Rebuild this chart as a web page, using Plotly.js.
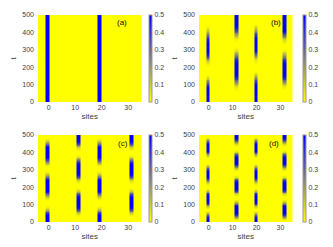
<!DOCTYPE html>
<html><head><meta charset="utf-8">
<script src="https://cdn.plot.ly/plotly-3.0.1.min.js"></script>
<style>html,body{margin:0;padding:0;background:#fff}#chart{width:333px;height:247px}</style>
</head><body><div id="chart"></div>
<script>
// grid of the maps
const siteStart = -4, siteStep = 0.5, siteCount = 79;
const tStart = 0, tStep = 10;
const panelLabels = ['(a)', '(b)', '(c)', '(d)'];
const xTicks = [0, 10, 20, 30];
const yTicks = [0, 100, 200, 300, 400, 500];
const cbTicks = [0, 0.1, 0.2, 0.3, 0.4, 0.5];
const cbText = ['0', '0.1', '0.2', '0.3', '0.4', '0.5'];

// panel (a): two frozen columns
const aSites = [-0.5, 19];
const aCol1 = [.5,.5,.5,.5,.5,.5,.5,.5,.5,.5,.5,.5,.5,.5,.5,.5,.5,.5,.5,.5,.5,.5,.5,.5,.5,.5,.5,.5,.5,.5,.5,.5,.5,.5,.5,.5,.5,.5,.5,.5,.5,.5,.5,.5,.5,.5,.5,.5,.5,.5,.5];
const aCol2 = [.5,.5,.5,.5,.5,.5,.5,.5,.5,.5,.5,.5,.5,.5,.5,.5,.5,.5,.5,.5,.5,.5,.5,.5,.5,.5,.5,.5,.5,.5,.5,.5,.5,.5,.5,.5,.5,.5,.5,.5,.5,.5,.5,.5,.5,.5,.5,.5,.5,.5,.5];

// panel (b)
const bSites = [-0.5, 11.5, 19.5, 31.5];
const bCol1 = [.5,.5,.5,.5,.5,.5,.5,.5,.5,.45,.4,.33,.25,.16,.08,.03,0,0,0,0,0,0,.03,.08,.16,.26,.36,.44,.48,.5,.5,.5,.5,.5,.5,.48,.45,.4,.33,.25,.18,.12,.07,.03,.01,0,0,0,0,0,0];
const bCol2 = [0,0,0,0,0,0,0,.01,.03,.07,.13,.2,.28,.36,.43,.48,.5,.5,.5,.5,.5,.5,.5,.48,.45,.4,.33,.25,.17,.1,.05,.02,0,0,0,.01,.03,.07,.13,.2,.28,.36,.43,.48,.5,.5,.5,.5,.5,.5,.5];
const bCol3 = [.5,.5,.5,.5,.5,.5,.5,.5,.5,.5,.5,.45,.4,.33,.25,.16,.08,.03,0,0,0,0,0,.02,.05,.1,.18,.28,.38,.45,.49,.5,.5,.5,.5,.5,.5,.48,.44,.38,.3,.22,.15,.09,.04,.01,0,0,0,0,0];
const bCol4 = [0,0,0,0,0,0,0,0,.02,.05,.1,.18,.27,.36,.44,.49,.5,.5,.5,.5,.5,.5,.5,.47,.42,.35,.27,.19,.12,.06,.02,0,0,0,.02,.05,.1,.18,.27,.36,.44,.49,.5,.5,.5,.5,.5,.5,.5,.5,.5];

// panel (c)
const cSites = [-0.5, 11, 19, 31];
const cCol1 = [.5,.5,.5,.5,.5,.42,.3,.16,.06,.01,0,0,0,.01,.06,.16,.3,.42,.5,.5,.5,.5,.5,.5,.5,.42,.3,.16,.06,.01,0,0,.01,.06,.16,.3,.42,.5,.5,.5,.5,.5,.5,.5,.42,.3,.16,.06,.01,0,0];
const cCol2 = [0,0,0,0,.03,.1,.23,.36,.47,.5,.5,.5,.5,.5,.5,.47,.36,.23,.1,.03,0,0,0,.03,.1,.23,.36,.47,.5,.5,.5,.5,.5,.5,.47,.36,.23,.1,.03,0,0,0,.03,.1,.23,.36,.47,.5,.5,.5,.5];
const cCol3 = [.5,.5,.5,.5,.5,.42,.3,.16,.06,.01,0,0,0,.01,.06,.16,.3,.42,.5,.5,.5,.5,.5,.5,.5,.42,.3,.16,.06,.01,0,0,.01,.06,.16,.3,.42,.5,.5,.5,.5,.5,.5,.5,.42,.3,.16,.06,.01,0,0];
const cCol4 = [0,0,0,0,.03,.1,.23,.36,.47,.5,.5,.5,.5,.5,.5,.47,.36,.23,.1,.03,0,0,0,.03,.1,.23,.36,.47,.5,.5,.5,.5,.5,.5,.47,.36,.23,.1,.03,0,0,0,.03,.1,.23,.36,.47,.5,.5,.5,.5];

// panel (d)
const dSites = [-0.5, 11.5, 19.5, 31.5];
const dCol1 = [.5,.5,.5,.46,.32,.14,.03,0,.03,.14,.32,.46,.5,.5,.5,.5,.46,.32,.14,.03,0,0,.03,.14,.32,.46,.5,.5,.5,.5,.46,.32,.14,.03,0,0,0,.01,.07,.22,.4,.5,.5,.5,.5,.5,.4,.22,.07,.01,0];
const dCol2 = [0,.01,.07,.22,.4,.5,.5,.5,.5,.5,.4,.22,.07,.01,0,.01,.07,.22,.4,.5,.5,.5,.5,.5,.4,.22,.07,.01,0,0,.03,.14,.32,.46,.5,.5,.5,.5,.46,.32,.14,.03,0,0,.01,.07,.22,.4,.5,.5,.5];
const dCol3 = [.5,.5,.5,.46,.32,.14,.03,0,.03,.14,.32,.46,.5,.5,.5,.5,.46,.32,.14,.03,0,0,.03,.14,.32,.46,.5,.5,.5,.5,.46,.32,.14,.03,0,0,0,.01,.07,.22,.4,.5,.5,.5,.5,.5,.4,.22,.07,.01,0];
const dCol4 = [0,.01,.07,.22,.4,.5,.5,.5,.5,.5,.4,.22,.07,.01,0,.01,.07,.22,.4,.5,.5,.5,.5,.5,.4,.22,.07,.01,0,0,.03,.14,.32,.46,.5,.5,.5,.5,.46,.32,.14,.03,0,0,.01,.07,.22,.4,.5,.5,.5];

function buildZ(sites, profiles) {
  const z = [];
  for (let r = 0; r < profiles[0].length; r++) {
    const row = new Array(siteCount).fill(0);
    sites.forEach((s, c) => {
      const idx = Math.round((s - siteStart) / siteStep);
      for (let off = -1; off <= 1; off++) row[idx + off] = profiles[c][r];
    });
    z.push(row);
  }
  return z;
}

const panels = [
  buildZ(aSites, [aCol1, aCol2]),
  buildZ(bSites, [bCol1, bCol2, bCol3, bCol4]),
  buildZ(cSites, [cCol1, cCol2, cCol3, cCol4]),
  buildZ(dSites, [dCol1, dCol2, dCol3, dCol4])
];

const W = 333, H = 247;
const boxes = [ // plot areas in px: left, right, top, bottom
  [38, 141.5, 15, 102], [199, 292.5, 15, 102],
  [38, 141.5, 135, 222], [199, 292.5, 135, 222]
];
const cbLeft = [148.7, 303.3, 148.7, 303.3];
const labelPos = [[121.5, 22.5], [275.5, 22.5], [123, 143], [274, 143]];

const font = {family: 'Liberation Sans, Arial, sans-serif', size: 7, color: '#404040'};
const traces = [], layout = {
  width: W, height: H, margin: {l: 0, r: 0, t: 0, b: 0},
  paper_bgcolor: '#fff', plot_bgcolor: '#fff', showlegend: false,
  font: font, annotations: []
};

panels.forEach((z, i) => {
  const n = i === 0 ? '' : String(i + 1);
  const b = boxes[i];
  traces.push({
    type: 'heatmap', z: z, x0: siteStart, dx: siteStep, y0: tStart, dy: tStep,
    xaxis: 'x' + n, yaxis: 'y' + n, zmin: 0, zmax: 0.5, zsmooth: 'best',
    colorscale: [[0, 'rgb(255,255,0)'], [1, 'rgb(0,0,255)']],
    hoverinfo: 'skip',
    colorbar: {
      x: cbLeft[i] / W, xanchor: 'left', xpad: 0, ypad: 0,
      y: 1 - (b[2] + b[3]) / 2 / H, yanchor: 'middle',
      len: (b[3] - b[2]) / H, lenmode: 'fraction', thickness: 3,
      outlinewidth: 1, outlinecolor: '#999',
      tickvals: cbTicks, ticktext: cbText, ticks: '', tickfont: font
    }
  });
  layout['xaxis' + n] = {
    domain: [b[0] / W, b[1] / W], anchor: 'y' + n, range: [-4, 35],
    tickvals: xTicks, ticks: '', showgrid: false, zeroline: false, showline: false,
    tickfont: font, automargin: false,
    title: {text: 'sites', font: {family: font.family, size: 8, color: '#404040'}, standoff: 3}
  };
  layout['yaxis' + n] = {
    domain: [1 - b[3] / H, 1 - b[2] / H], anchor: 'x' + n, range: [0, 500],
    tickvals: yTicks, ticks: '', showgrid: false, zeroline: false, showline: false,
    tickfont: font, automargin: false, ticklabelstandoff: 3,
    title: {text: 't', font: {family: font.family, size: 8, color: '#404040'}, standoff: 4}
  };
  layout.annotations.push({
    text: panelLabels[i], xref: 'paper', yref: 'paper', showarrow: false,
    x: labelPos[i][0] / W, y: 1 - labelPos[i][1] / H, xanchor: 'center', yanchor: 'middle',
    font: {family: font.family, size: 8, color: '#111'}
  });
});

Plotly.newPlot('chart', traces, layout, {staticPlot: true, displayModeBar: false});
</script>
</body></html>
